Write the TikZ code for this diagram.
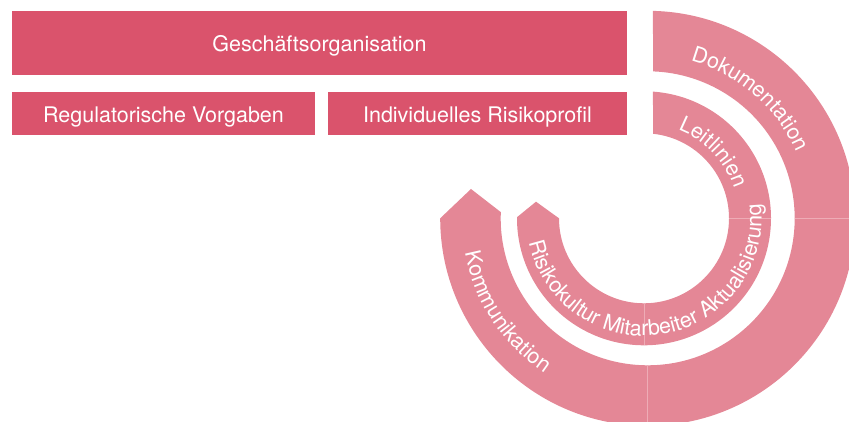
\documentclass[tikz,border=0pt]{standalone}
\usepackage{fontspec}
\setmainfont{TeX Gyre Heros}
\usetikzlibrary{decorations.text,calc}
\definecolor{rectcol}{RGB}{218,83,108}
\definecolor{ringcol}{RGB}{228,135,150}
\definecolor{seamcol}{RGB}{238,172,182}
\newcommand\labelfont{\fontsize{21.5}{21.5}\selectfont}
\tikzset{
  rectbox/.style={fill=rectcol, text=white, inner sep=0pt, font=\labelfont, text height=17.5pt, text depth=0pt},
  ringfill/.style={fill=ringcol},
  seam/.style={draw=seamcol, line width=0.7pt},
  arctext/.style={decorate, decoration={text along path, text align=center, text color=white}}
}
\begin{document}
\begin{tikzpicture}[x=1pt,y=1pt]
\useasboundingbox (0,0) rectangle (849,422);
\coordinate (O) at (647.7,203.7);
\coordinate (I) at (644,203.7);
% boxes
\node[rectbox, minimum width=615pt, minimum height=64pt] (geo) at (319.5,379) {Geschäftsorganisation};
\node[rectbox, minimum width=303pt, minimum height=43pt] (reg) at (163.5,308.5) {Regulatorische Vorgaben};
\node[rectbox, minimum width=299pt, minimum height=43pt] (ind) at (477.5,308.5) {Individuelles Risikoprofil};
% outer ring
\path[ringfill] ($(O)+(88.54:207.5)$) arc[start angle=88.54, end angle=-180, radius=207.5]
  -- (471,233) -- ($(O)+(-182.4:147)$) arc[start angle=-182.4, end angle=87.93, radius=147] -- cycle;
% inner ring
\path[ringfill] ($(I)+(85.94:127)$) arc[start angle=85.94, end angle=-180.5, radius=127]
  -- (536,220.3) -- ($(I)+(-180:85)$) arc[start angle=-180, end angle=83.92, radius=85] -- cycle;
% seams
\draw[seam] ($(O)+(0:147)$) -- ($(O)+(0:208)$);
\draw[seam] ($(O)+(-90:147)$) -- ($(O)+(-90:208)$);
\draw[seam] ($(I)+(0:85)$) -- ($(I)+(0:127)$);
\draw[seam] ($(I)+(-90:85)$) -- ($(I)+(-90:127)$);
% arc texts
\path[arctext, decoration={text={|\labelfont|Dokumentation}}] ($(O)+(84.3:163)$) arc[start angle=84.3, end angle=14.3, radius=163];
\path[arctext, decoration={text={|\labelfont|Kommunikation}}] ($(O)+(180:186)$) arc[start angle=180, end angle=247, radius=186];
\path[arctext, decoration={text={|\labelfont|Leitlinien}}] ($(I)+(80:95)$) arc[start angle=80, end angle=7, radius=95];
\path[arctext, decoration={text={|\labelfont|Risikokultur Mitarbeiter Aktualisierung}}] ($(I)+(180:117.5)$) arc[start angle=180, end angle=379, radius=117.5];
\end{tikzpicture}
\end{document}
